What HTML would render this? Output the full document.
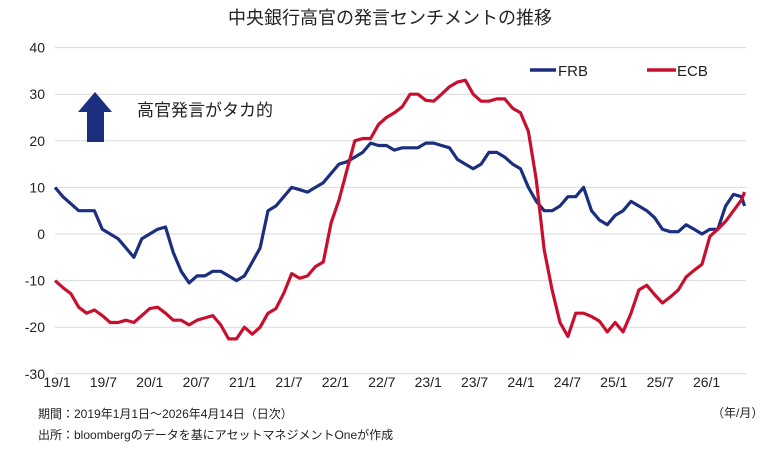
<!DOCTYPE html>
<html><head><meta charset="utf-8"><style>
body{margin:0;background:#fff;}
svg{display:block;font-family:"Liberation Sans","Noto Sans CJK JP",sans-serif;}
</style></head><body>
<svg id="chart" width="780" height="457" viewBox="0 0 780 457">
<text x="390" y="24" text-anchor="middle" font-size="18" fill="#222">中央銀行高官の発言センチメントの推移</text>
<g id="grid"></g>
<g id="yticks"></g>
<g id="xticks"></g>
<g id="series"></g>
<g>
<g><line x1="530" y1="70" x2="556" y2="70" stroke="#1c2f7e" stroke-width="3.5"/><text x="558" y="76" font-size="15" fill="#222">FRB</text></g>
<g><line x1="647" y1="70" x2="676" y2="70" stroke="#c8102e" stroke-width="3.5"/><text x="677" y="76" font-size="15" fill="#222">ECB</text></g>
</g>
<polygon points="95,92 112,112 104,112 104,142 87,142 87,112 78,112" fill="#1c2f7e"/>
<text x="137" y="116" font-size="17" fill="#222">高官発言がタカ的</text>
<text x="712" y="417" font-size="12" fill="#222">（年/月）</text>
<text x="38" y="418" font-size="12" fill="#222">期間：2019年1月1日～2026年4月14日（日次）</text>
<text x="38" y="439" font-size="12" fill="#222">出所：bloombergのデータを基にアセットマネジメントOneが作成</text>
</svg>
<script>
const yTicks=[40,30,20,10,0,-10,-20,-30];
const xLabels=["19/1","19/7","20/1","20/7","21/1","21/7","22/1","22/7","23/1","23/7","24/1","24/7","25/1","25/7","26/1"];
const months=[0,1,2,3,4,5,6,7,8,9,10,11,12,13,14,15,16,17,18,19,20,21,22,23,24,25,26,27,28,29,30,31,32,33,34,35,36,37,38,39,40,41,42,43,44,45,46,47,48,49,50,51,52,53,54,55,56,57,58,59,60,61,62,63,64,65,66,67,68,69,70,71,72,73,74,75,76,77,78,79,80,81,82,83,84,85,86,87,87.4];
const frb=[10,8,6.5,5,5,5,1,0,-1,-3,-5,-1,0,1,1.5,-4,-8,-10.5,-9,-9,-8,-8,-9,-10,-9,-6,-3,5,6,8,10,9.5,9,10,11,13,15,15.5,16.5,17.5,19.5,19,19,18,18.5,18.5,18.5,19.5,19.5,19,18.5,16,15,14,15,17.5,17.5,16.5,15,14,10,7,5,5,6,8,8,10,5,3,2,4,5,7,6,5,3.5,1,0.5,0.5,2,1,0,1,1,6,8.5,8,6];
const ecb=[-10,-11.5,-12.8,-15.7,-17,-16.3,-17.5,-19,-19,-18.5,-19,-17.5,-16,-15.7,-17,-18.5,-18.5,-19.5,-18.5,-18,-17.5,-19.5,-22.5,-22.5,-20,-21.5,-20,-17,-16,-12.7,-8.5,-9.5,-9,-7,-6,2.4,7.3,13.7,20,20.5,20.5,23.5,25,26,27.3,30,30,28.7,28.5,30,31.6,32.6,33,30,28.5,28.5,29,29,27,26,22,11.6,-3.4,-12,-19,-22,-17,-17,-17.7,-18.7,-21,-19,-21,-17,-12,-11,-13,-14.8,-13.5,-12,-9.2,-7.8,-6.5,-0.5,1,2.7,5,7.3,9];
const NS="http://www.w3.org/2000/svg";
const y=v=>234-v*4.66;
const x=m=>55+m*7.89;
const lx=i=>57+i*46.4;
const grid=document.getElementById('grid'),yt=document.getElementById('yticks'),xt=document.getElementById('xticks'),ser=document.getElementById('series');
yTicks.forEach(v=>{
 const l=document.createElementNS(NS,'line');
 l.setAttribute('x1',55);l.setAttribute('x2',746);l.setAttribute('y1',y(v));l.setAttribute('y2',y(v));
 l.setAttribute('stroke','#d9d9d9');l.setAttribute('stroke-width','1');
 
 
 grid.appendChild(l);
 const t=document.createElementNS(NS,'text');
 t.setAttribute('x',45);t.setAttribute('y',y(v)+5);t.setAttribute('text-anchor','end');t.setAttribute('font-size','14');t.setAttribute('fill','#222');
 t.textContent=v;
 
 
 yt.appendChild(t);
});
xLabels.forEach((s,i)=>{
 const t=document.createElementNS(NS,'text');
 t.setAttribute('x',lx(i));t.setAttribute('y',387);t.setAttribute('text-anchor','middle');t.setAttribute('font-size','14');t.setAttribute('fill','#222');
 t.textContent=s;
 
 
 xt.appendChild(t);
});
function draw(vals,color,name){
 const p=document.createElementNS(NS,'polyline');
 p.setAttribute('points',vals.map((v,i)=>x(months[i]).toFixed(1)+','+y(v).toFixed(1)).join(' '));
 p.setAttribute('fill','none');p.setAttribute('stroke',color);p.setAttribute('stroke-width','3.2');p.setAttribute('stroke-linejoin','round');
 
 
 ser.appendChild(p);
}
draw(frb,'#1c2f7e','frb-line');
draw(ecb,'#c8102e','ecb-line');
</script>
</body></html>
